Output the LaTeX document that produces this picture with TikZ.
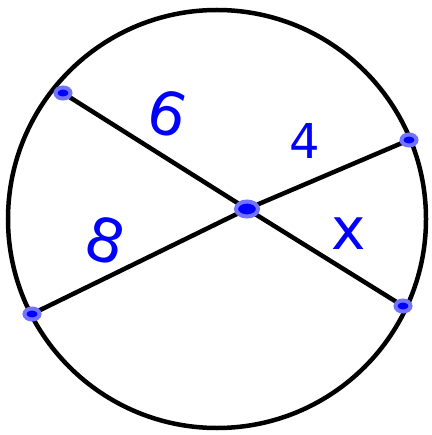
\documentclass[tikz,border=0pt]{standalone}
\usepackage{fontspec}
\setmainfont{DejaVu Sans}
\usetikzlibrary{shapes.geometric}
\begin{document}
\begin{tikzpicture}[x=1pt,y=-1pt,
  chord/.style={line width=4.5pt,black},
  pt/.style={ellipse,draw=blue!55,line width=4pt,fill=blue,minimum width=15pt,minimum height=11pt,inner sep=0pt},
  lbl/.style={text=blue,font=\fontsize{60}{60}\selectfont,inner sep=0pt}]
\useasboundingbox (0,0) rectangle (431,435);
\draw[line width=4.5pt] (217,219) circle[radius=209];
\coordinate (A) at (63,93);
\coordinate (B) at (403,306);
\coordinate (C) at (32,314);
\coordinate (D) at (409,140);
\coordinate (O) at (247,209);
\draw[chord] (A) -- (O) -- (B);
\draw[chord] (C) -- (O) -- (D);
\node[pt] (nA) at (A) {};
\node[pt] (nB) at (B) {};
\node[pt] (nC) at (C) {};
\node[pt] (nD) at (D) {};
\node[pt,minimum width=22pt,minimum height=15pt] (nO) at (O) {};
\node[lbl,rotate=-15] (l6) at (168,113) {6};
\node[lbl,font=\fontsize{48}{48}\selectfont] (l4) at (305,141) {4};
\node[lbl,rotate=-15] (l8) at (106,240) {8};
\node[lbl,font=\fontsize{58}{58}\selectfont] (lx) at (349,234) {x};
\end{tikzpicture}
\end{document}
